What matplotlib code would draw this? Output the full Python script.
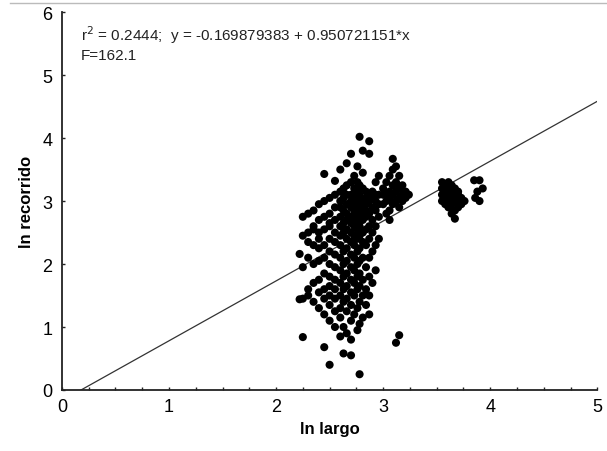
import matplotlib
matplotlib.use("Agg")
import matplotlib.pyplot as plt
from matplotlib.lines import Line2D
from matplotlib.ticker import MultipleLocator

plt.rcParams['font.family'] = ['Liberation Sans', 'DejaVu Sans']

# ---- data ----
# main cluster, column x positions and the y values in each column
main_x_cols = [2.22, 2.25, 2.3, 2.35, 2.4, 2.45, 2.5, 2.55, 2.6, 2.63, 2.66, 2.7, 2.73,
               2.76, 2.78, 2.81, 2.84, 2.87, 2.9, 2.93, 2.96]
main_y_cols = [
    [1.44, 2.16],
    [0.84, 1.45, 1.95, 2.45, 2.75],
    [1.5, 1.6, 2.1, 2.35, 2.5, 2.8],
    [1.4, 1.7, 2.0, 2.3, 2.55, 2.6, 2.85],
    [1.3, 1.55, 1.75, 2.05, 2.25, 2.4, 2.5, 2.7, 2.95],
    [0.68, 1.2, 1.45, 1.6, 1.85, 2.1, 2.3, 2.55, 2.75, 3.0, 3.43],
    [0.4, 1.1, 1.35, 1.5, 1.65, 1.8, 2.0, 2.2, 2.4, 2.6, 2.65, 2.8, 3.05],
    [1.0, 1.25, 1.45, 1.6, 1.75, 1.95, 2.15, 2.35, 2.5, 2.7, 2.9, 3.1, 3.32],
    [0.85, 1.15, 1.3, 1.5, 1.7, 1.9, 2.1, 2.3, 2.45, 2.6, 2.75, 2.9, 3.0, 3.15, 3.5],
    [0.58, 1.0, 1.4, 1.6, 1.8, 2.0, 2.2, 2.5, 2.65, 2.85, 3.05, 3.2],
    [0.9, 1.25, 1.45, 1.65, 1.85, 2.05, 2.25, 2.4, 2.55, 2.7, 2.8, 2.95, 3.1, 3.25, 3.6],
    [0.55, 0.8, 1.1, 1.35, 1.55, 1.75, 1.95, 2.15, 2.35, 2.5, 2.65, 2.75, 2.9, 3.0, 3.1, 3.3, 3.75],
    [1.2, 1.5, 1.7, 1.9, 2.1, 2.3, 2.45, 2.6, 2.7, 2.85, 2.95, 3.05, 3.2, 3.4],
    [0.95, 1.3, 1.6, 1.8, 2.0, 2.2, 2.4, 2.55, 2.65, 2.8, 2.9, 3.0, 3.15, 3.3, 3.55],
    [0.25, 1.05, 1.4, 1.65, 1.85, 2.05, 2.25, 2.45, 2.6, 2.75, 2.85, 2.95, 3.1, 3.25, 4.02],
    [1.15, 1.5, 1.75, 2.1, 2.35, 2.5, 2.7, 2.8, 2.9, 3.0, 3.2, 3.45, 3.8],
    [1.35, 1.6, 1.95, 2.3, 2.55, 2.75, 2.85, 2.95, 3.05, 3.15],
    [1.2, 1.5, 1.8, 2.1, 2.4, 2.6, 2.8, 3.0, 3.1, 3.75, 3.95],
    [1.7, 2.2, 2.5, 2.7, 2.9, 3.05, 3.15],
    [1.9, 2.3, 2.6, 2.85, 3.0, 3.1, 3.3],
    [2.4, 2.75, 2.95, 3.1, 3.4],
]
# cluster just right of the main one (x ~ 3.0-3.25)
mid_x_cols = [3.0, 3.03, 3.06, 3.09, 3.12, 3.15, 3.18, 3.21, 3.24]
mid_y_cols = [
    [2.95, 3.1, 3.2],
    [2.8, 3.0, 3.1, 3.3],
    [2.7, 2.85, 3.05, 3.15, 3.4],
    [2.95, 3.1, 3.25, 3.5, 3.67],
    [0.75, 3.0, 3.15, 3.3, 3.55],
    [0.87, 2.9, 3.05, 3.2, 3.4],
    [3.0, 3.1, 3.25],
    [3.05, 3.15],
    [3.1],
]
# cluster at x ~ 3.55-3.8
right_x_cols = [3.55, 3.58, 3.61, 3.64, 3.67, 3.7, 3.73, 3.76]
right_y_cols = [
    [3.0, 3.1, 3.2, 3.3],
    [2.95, 3.05, 3.15, 3.25],
    [2.9, 3.0, 3.1, 3.2, 3.3],
    [2.8, 2.95, 3.05, 3.15, 3.25],
    [2.72, 2.85, 3.0, 3.1, 3.2],
    [2.9, 3.0, 3.1, 3.15],
    [2.95, 3.05],
    [3.0],
]
# small cluster at x ~ 3.85-3.95
far_x = [3.85, 3.9, 3.88, 3.93, 3.86, 3.9]
far_y = [3.33, 3.33, 3.15, 3.2, 3.05, 3.0]

intercept = -0.169879383
slope = 0.950721151
r2 = 0.2444
F = 162.1

# ---- flatten ----
xs, ys = [], []
for xc, yc in zip(main_x_cols + mid_x_cols + right_x_cols, main_y_cols + mid_y_cols + right_y_cols):
    for yv in yc:
        xs.append(xc)
        ys.append(yv)
xs += far_x
ys += far_y

fig = plt.figure(figsize=(6.07, 4.52), dpi=100)
ax = fig.add_axes([0.102, 0.135, 0.882, 0.836])

ax.scatter(xs, ys, s=34, c='black', edgecolors='none', zorder=3)

x0 = -intercept / slope
ax.plot([x0, 5.0], [0.0, intercept + slope * 5.0], color='#333333', lw=0.9, zorder=2)

ax.set_xlim(0, 5)
ax.set_ylim(0, 6)
ax.xaxis.set_major_locator(MultipleLocator(1))
ax.xaxis.set_minor_locator(MultipleLocator(0.25))
ax.yaxis.set_major_locator(MultipleLocator(1))
ax.tick_params(which='both', direction='in', length=2.5, width=1, labelsize=13, color='#222222')
ax.tick_params(axis='x', which='major', pad=6)
ax.tick_params(axis='y', which='major', pad=7)
for side in ('top', 'right'):
    ax.spines[side].set_visible(False)
for side in ('left', 'bottom'):
    ax.spines[side].set_linewidth(1.3)
    ax.spines[side].set_color('#222222')

ax.set_xlabel('ln largo', fontsize=12, fontweight='bold', labelpad=4)
ax.set_ylabel('ln recorrido', fontsize=12, fontweight='bold', labelpad=6)

ax.text(0.035, 0.97, f"r$^2$ = {r2:.4f};  y = {intercept:.9f} + {slope:.9f}*x",
        transform=ax.transAxes, fontsize=11, va='top', ha='left', color='#222222')
ax.text(0.035, 0.905, f"F={F}", transform=ax.transAxes, fontsize=11, va='top', ha='left',
        color='#222222')

fig.add_artist(Line2D([0.016, 1.0], [0.991, 0.991], transform=fig.transFigure,
                      color='#bbbbbb', lw=1))

fig.savefig('out.png', dpi=100)
